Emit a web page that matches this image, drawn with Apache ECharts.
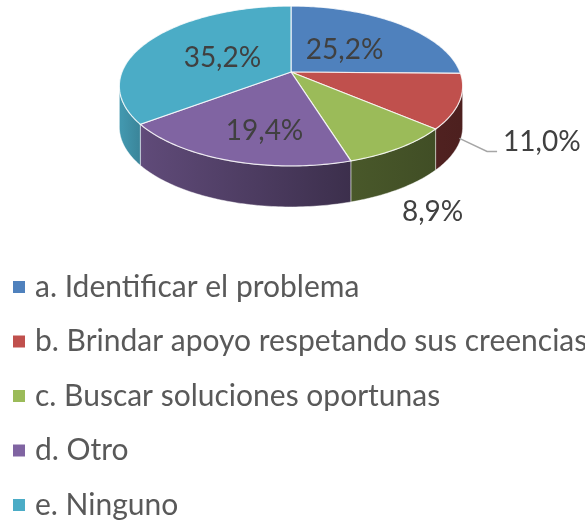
<!DOCTYPE html>
<html>
<head>
<meta charset="utf-8">
<script src="https://cdn.jsdelivr.net/npm/echarts@6/dist/echarts.min.js"></script>
<style>
html, body { margin: 0; padding: 0; background: #fff; }
#chart { width: 585px; height: 522px; }
</style>
</head>
<body>
<div id="chart"></div>
<script>
var categories = ['a. Identificar el problema', 'b. Brindar apoyo respetando sus creencias', 'c. Buscar soluciones oportunas', 'd. Otro', 'e. Ninguno'];
var values = [25.2, 11.0, 8.9, 19.4, 35.2];
var colors = ['#4f81bd', '#c0504d', '#9bbb59', '#8064a2', '#4bacc6'];

// 3D pie geometry (perspective ellipse)
var CX = 291, CY = 72, A = 169, B = 77.5, P = 0.175, H = 41;
var total = values.reduce(function (s, v) { return s + v; }, 0);
var SIDE_FROM = 180 - Math.acos(P) * 180 / Math.PI;
var SIDE_TO = 180 + Math.acos(P) * 180 / Math.PI;

function proj(deg, r, dy) {
	var a = deg * Math.PI / 180;
	var u = r * Math.sin(a), v = -r * Math.cos(a);
	var k = 1 - P * v;
	return [CX + A * u / k, CY + B * v / k + dy];
}
function arc(a, b, dy) {
	var pts = [], n = Math.max(2, Math.ceil(b - a));
	for (var k = 0; k <= n; k++) pts.push(proj(a + (b - a) * k / n, 1, dy));
	return pts;
}
function shade(hex, f) {
	var c = parseInt(hex.slice(1), 16);
	var r = Math.round(((c >> 16) & 255) * f), g = Math.round(((c >> 8) & 255) * f), b = Math.round((c & 255) * f);
	return 'rgb(' + r + ',' + g + ',' + b + ')';
}
function fmt(v) { return v.toFixed(1).replace('.', ',') + '%'; }

function renderSlice(params, api) {
	var i = params.seriesIndex;
	var val = api.value(0);
	var before = 0;
	for (var j = 0; j < i; j++) before += values[j];
	var start = 360 * before / total, end = start + 360 * val / total;
	var col = colors[i];
	var children = [];

	// side
	var a2 = Math.max(start, SIDE_FROM), b2 = Math.min(end, SIDE_TO);
	if (b2 > a2) {
		var pts = arc(a2, b2, 0).concat(arc(a2, b2, H).reverse());
		children.push({
			type: 'polygon', z2: 1,
			shape: { points: pts },
			style: {
				fill: new echarts.graphic.LinearGradient(CX - A, 0, CX + A, 0, [
					{ offset: 0, color: shade(col, 0.88) },
					{ offset: 0.07, color: shade(col, 0.74) },
					{ offset: 0.68, color: shade(col, 0.47) },
					{ offset: 1, color: shade(col, 0.40) }
				], true),
				stroke: 'rgba(255,255,255,0.45)', lineWidth: 1
			}
		});
	}
	// top
	children.push({
		type: 'polygon', z2: 5,
		shape: { points: [[CX, CY]].concat(arc(start, end, 0)) },
		style: { fill: col, stroke: 'rgba(255,255,255,0.8)', lineWidth: 1.2 }
	});
	// label
	var mid = (start + end) / 2;
	var font = '28px Lato';
	if (val >= 15) {
		var p = proj(mid, 0.47, 0);
		var vm = -Math.cos(mid * Math.PI / 180);
		children.push({
			type: 'text', z2: 10, x: p[0], y: p[1] + 2 + Math.max(0, vm) * H * 0.5,
			style: { text: fmt(val), fill: '#404040', font: font, align: 'center', verticalAlign: 'middle', textAlign: 'center', textVerticalAlign: 'middle' }
		});
	} else {
		var q = proj(mid, 1.25, H);
		var um = Math.sin(mid * Math.PI / 180);
		if (um > 0.8) {
			var s = proj(mid, 1, H * 0.9);
			children.push({
				type: 'polyline', z2: 8,
				shape: { points: [s, [q[0] - 18, q[1] + 1], [q[0] - 8, q[1] + 1]] },
				style: { stroke: '#a6a6a6', lineWidth: 1.5, fill: null }
			});
			children.push({
				type: 'text', z2: 10, x: q[0] - 2, y: q[1] - 8,
				style: { text: fmt(val), fill: '#404040', font: font, align: 'left', verticalAlign: 'middle', textAlign: 'left', textVerticalAlign: 'middle' }
			});
		} else {
			children.push({
				type: 'text', z2: 10, x: q[0], y: q[1],
				style: { text: fmt(val), fill: '#404040', font: font, align: 'center', verticalAlign: 'middle', textAlign: 'center', textVerticalAlign: 'middle' }
			});
		}
	}
	return { type: 'group', children: children };
}

var myChart = echarts.init(document.getElementById('chart'));
var option = {
	animation: false,
	legend: {
		orient: 'vertical',
		left: 13,
		top: 272,
		padding: 0,
		icon: 'rect',
		itemWidth: 12,
		itemHeight: 12,
		itemGap: 24.5,
		textStyle: { fontFamily: 'Lato', fontSize: 30, color: '#595959', lineHeight: 30, padding: [0, 0, 0, 5] },
		data: categories
	},
	series: categories.map(function (name, i) {
		return {
			type: 'custom',
			name: name,
			coordinateSystem: 'none',
			silent: true,
			itemStyle: { color: colors[i] },
			data: [values[i]],
			renderItem: renderSlice
		};
	})
};
myChart.setOption(option);
</script>
</body>
</html>
